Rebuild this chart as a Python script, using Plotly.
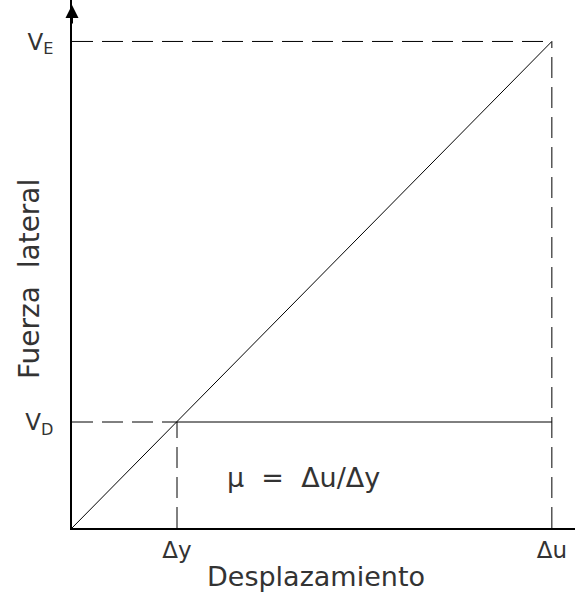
import plotly.graph_objects as go

# valores (unidades relativas: delta_y = 1, V_D = 1)
desp_puntos = [1.0, 4.57]          # delta_y, delta_u
fuerza_puntos = [1.0, 4.59]        # V_D, V_E
desp_labels = ["Δy", "Δu"]
fuerza_labels = ["V<sub>D</sub>", "V<sub>E</sub>"]

dy, du = desp_puntos
vd, ve = fuerza_puntos

FONT = "DejaVu Sans"
TXT = "#333333"
dash = "21px,9px"

fig = go.Figure()

# curva elastica (diagonal)
fig.add_trace(go.Scatter(x=[0, du], y=[0, ve], mode="lines",
                         line=dict(color="black", width=1)))
# meseta a V_D
fig.add_trace(go.Scatter(x=[dy, du], y=[vd, vd], mode="lines",
                         line=dict(color="black", width=1)))
# lineas de referencia punteadas
for xs, ys in [([0, dy], [vd, vd]), ([dy, dy], [0, vd]),
               ([0, du], [ve, ve]), ([du, du], [0, ve])]:
    fig.add_trace(go.Scatter(x=xs, y=ys, mode="lines",
                             line=dict(color="black", width=1, dash=dash)))

# flechas de los ejes
fig.add_annotation(x=0, y=(528 - 5) / 106, xref="x", yref="y", text="",
                   showarrow=True, arrowhead=2, arrowsize=1.3, arrowwidth=2,
                   ax=0, ay=20, arrowcolor="black")
fig.add_annotation(x=(577 - 72) / 105, y=0, xref="x", yref="y", text="",
                   showarrow=True, arrowhead=2, arrowsize=1.3, arrowwidth=2,
                   ax=-20, ay=0, arrowcolor="black")

# titulos de ejes
fig.add_annotation(x=(30 - 72) / 503, y=(528 - 279) / 528, xref="paper", yref="paper",
                   xanchor="center", yanchor="middle",
                   text="Fuerza  lateral", textangle=-90, showarrow=False,
                   font=dict(family=FONT, size=28, color=TXT))
fig.add_annotation(x=(316 - 72) / 503, y=(528 - 576) / 528, xref="paper", yref="paper",
                   xanchor="center", yanchor="middle",
                   text="Desplazamiento", showarrow=False,
                   font=dict(family=FONT, size=27, color=TXT))
fig.add_annotation(x=(303 - 72) / 105, y=(528 - 477) / 106, xref="x", yref="y",
                   text="μ  =  Δu/Δy", showarrow=False,
                   font=dict(family=FONT, size=27, color=TXT))

fig.update_layout(
    width=575, height=592,
    margin=dict(l=72, r=0, t=0, b=64),
    plot_bgcolor="white", paper_bgcolor="white",
    showlegend=False,
    xaxis=dict(range=[0, 503 / 105], showgrid=False, zeroline=False,
               showline=True, linecolor="black", linewidth=2,
               tickvals=desp_puntos, ticktext=desp_labels, ticks="",
               ticklabelstandoff=0,
               tickfont=dict(family=FONT, size=23, color=TXT)),
    yaxis=dict(range=[0, 528 / 106], showgrid=False, zeroline=False,
               showline=True, linecolor="black", linewidth=2,
               tickvals=fuerza_puntos, ticktext=fuerza_labels, ticks="",
               ticklabelstandoff=12,
               tickfont=dict(family=FONT, size=23, color=TXT)),
)

fig.write_html("out.html", config={"displayModeBar": False},
               post_script="document.body.style.margin='0';")
